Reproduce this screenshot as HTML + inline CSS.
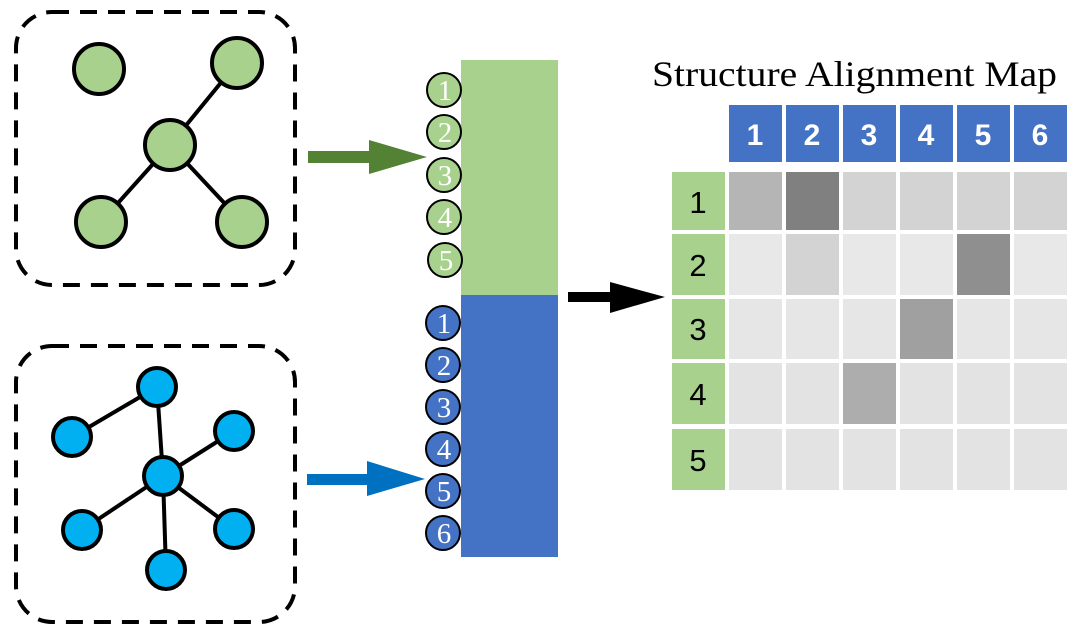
<!DOCTYPE html>
<html><head><meta charset="utf-8"><style>html,body{margin:0;padding:0;background:#fff}svg{display:block}</style></head>
<body>
<svg width="1080" height="635" viewBox="0 0 1080 635" xmlns="http://www.w3.org/2000/svg">
<rect x="16" y="12" width="279" height="273" rx="36" fill="none" stroke="#000" stroke-width="4" stroke-dasharray="17,11"/>
<rect x="16" y="346" width="279" height="276" rx="36" fill="none" stroke="#000" stroke-width="4" stroke-dasharray="17,11"/>
<g stroke="#000" stroke-width="4">
<line x1="170" y1="145" x2="237" y2="63"/><line x1="170" y1="145" x2="101" y2="222"/><line x1="170" y1="145" x2="242" y2="222"/>
<g fill="#a9d18e">
<circle cx="99" cy="69" r="25"/><circle cx="237" cy="63" r="25"/><circle cx="170" cy="145" r="25"/><circle cx="101" cy="222" r="25"/><circle cx="242" cy="222" r="25"/>
</g>
<line x1="163" y1="476" x2="157" y2="387"/><line x1="157" y1="387" x2="72" y2="437"/><line x1="163" y1="476" x2="234" y2="431"/>
<line x1="163" y1="476" x2="82" y2="530"/><line x1="163" y1="476" x2="234" y2="529"/><line x1="163" y1="476" x2="166" y2="570"/>
<g fill="#00b0f0">
<circle cx="157" cy="387" r="19"/><circle cx="72" cy="437" r="19"/><circle cx="234" cy="431" r="19"/><circle cx="163" cy="476" r="19"/><circle cx="82" cy="530" r="19"/><circle cx="234" cy="529" r="19"/><circle cx="166" cy="570" r="19"/>
</g>
</g>
<rect x="308" y="151" width="64" height="12" fill="#548235"/><polygon points="369,140 427,157 369,174" fill="#548235"/>
<rect x="307" y="474" width="63" height="11" fill="#0070c0"/><polygon points="367,461 425,479 367,496" fill="#0070c0"/>
<rect x="568" y="292" width="45" height="10" fill="#000"/><polygon points="610,282 665,297 610,313" fill="#000"/>
<rect x="461" y="60" width="97" height="235" fill="#a9d18e"/>
<rect x="461" y="295" width="97" height="262" fill="#4472c4"/>
<g stroke="#000" stroke-width="2">
<g fill="#a9d18e">
<circle cx="444" cy="90" r="17"/><circle cx="444" cy="132" r="17"/><circle cx="444" cy="175" r="17"/><circle cx="444" cy="217" r="17"/><circle cx="445" cy="260" r="17"/>
</g>
<g fill="#4472c4">
<circle cx="443" cy="323" r="17"/><circle cx="443" cy="365" r="17"/><circle cx="443" cy="407" r="17"/><circle cx="443" cy="449" r="17"/><circle cx="443" cy="491" r="17"/><circle cx="443" cy="533" r="17"/>
</g>
</g>
<g fill="#fff" font-family="Liberation Serif, serif" font-size="29" text-anchor="middle">
<text x="445" y="100">1</text><text x="445" y="142">2</text><text x="445" y="185">3</text><text x="445" y="227">4</text><text x="446" y="270">5</text>
<text x="444" y="333">1</text><text x="444" y="375">2</text><text x="444" y="417">3</text><text x="444" y="459">4</text><text x="444" y="501">5</text><text x="444" y="543">6</text>
</g>
<text x="652" y="86" font-family="Liberation Serif, serif" font-size="36" textLength="405" lengthAdjust="spacingAndGlyphs" fill="#000">Structure Alignment Map</text>
<g fill="#4472c4">
<rect x="729" y="105" width="53" height="57"/><rect x="786" y="105" width="53" height="57"/><rect x="843" y="105" width="53" height="57"/>
<rect x="900" y="105" width="53" height="57"/><rect x="957" y="105" width="53" height="57"/><rect x="1014" y="105" width="53" height="57"/>
</g>
<g fill="#fff" font-family="Liberation Sans, sans-serif" font-size="30" font-weight="bold" text-anchor="middle">
<text x="755" y="145">1</text><text x="812" y="145">2</text><text x="869" y="145">3</text><text x="926" y="145">4</text><text x="983" y="145">5</text><text x="1040" y="145">6</text>
</g>
<g fill="#a9d18e">
<rect x="672" y="172" width="53" height="58"/><rect x="672" y="234" width="53" height="61"/><rect x="672" y="299" width="53" height="60"/><rect x="672" y="363" width="53" height="61"/><rect x="672" y="429" width="53" height="61"/>
</g>
<g fill="#000" font-family="Liberation Sans, sans-serif" font-size="31" text-anchor="middle">
<text x="698" y="213">1</text><text x="698" y="276">2</text><text x="698" y="340">3</text><text x="698" y="405">4</text><text x="698" y="471">5</text>
</g>
<g>
<rect x="729" y="172" width="53" height="58" fill="#b5b5b5"/><rect x="786" y="172" width="53" height="58" fill="#808080"/><rect x="843" y="172" width="53" height="58" fill="#d3d3d3"/><rect x="900" y="172" width="53" height="58" fill="#d3d3d3"/><rect x="957" y="172" width="53" height="58" fill="#d3d3d3"/><rect x="1014" y="172" width="53" height="58" fill="#d3d3d3"/>
<rect x="729" y="234" width="53" height="61" fill="#e8e8e8"/><rect x="786" y="234" width="53" height="61" fill="#d3d3d3"/><rect x="843" y="234" width="53" height="61" fill="#e8e8e8"/><rect x="900" y="234" width="53" height="61" fill="#e8e8e8"/><rect x="957" y="234" width="53" height="61" fill="#8f8f8f"/><rect x="1014" y="234" width="53" height="61" fill="#e8e8e8"/>
<rect x="729" y="299" width="53" height="60" fill="#e6e6e6"/><rect x="786" y="299" width="53" height="60" fill="#e6e6e6"/><rect x="843" y="299" width="53" height="60" fill="#e6e6e6"/><rect x="900" y="299" width="53" height="60" fill="#a0a0a0"/><rect x="957" y="299" width="53" height="60" fill="#e6e6e6"/><rect x="1014" y="299" width="53" height="60" fill="#e6e6e6"/>
<rect x="729" y="363" width="53" height="61" fill="#e3e3e3"/><rect x="786" y="363" width="53" height="61" fill="#e3e3e3"/><rect x="843" y="363" width="53" height="61" fill="#adadad"/><rect x="900" y="363" width="53" height="61" fill="#e3e3e3"/><rect x="957" y="363" width="53" height="61" fill="#e3e3e3"/><rect x="1014" y="363" width="53" height="61" fill="#e3e3e3"/>
<rect x="729" y="429" width="53" height="61" fill="#e3e3e3"/><rect x="786" y="429" width="53" height="61" fill="#e3e3e3"/><rect x="843" y="429" width="53" height="61" fill="#e3e3e3"/><rect x="900" y="429" width="53" height="61" fill="#e3e3e3"/><rect x="957" y="429" width="53" height="61" fill="#e3e3e3"/><rect x="1014" y="429" width="53" height="61" fill="#e3e3e3"/>
</g>
</svg>
</body></html>
